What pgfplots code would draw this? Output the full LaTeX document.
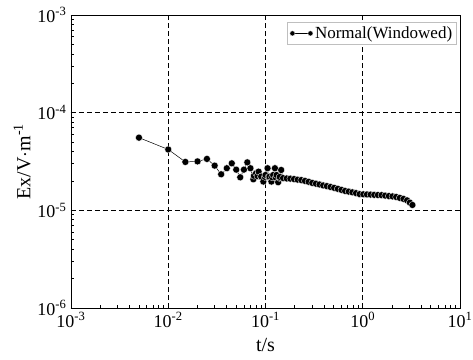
\documentclass[border=0pt]{standalone}
\usepackage{fontspec}
\setmainfont{Liberation Serif}
\usepackage{pgfplots}
\pgfplotsset{compat=1.18}
\begin{document}
\begin{tikzpicture}
\path[use as bounding box] (-71pt,-51pt) rectangle (402pt,308pt);
\begin{loglogaxis}[
  at={(0pt,0pt)}, anchor=south west,
  scale only axis, width=389pt, height=293pt,
  xmin=1e-3, xmax=10, ymin=1e-6, ymax=1e-3,
  xtick={1e-3,1e-2,1e-1,1,10},
  xticklabels={10\textsuperscript{-3},10\textsuperscript{-2},10\textsuperscript{-1},10\textsuperscript{0},10\textsuperscript{1}},
  ytick={1e-6,1e-5,1e-4,1e-3},
  yticklabels={10\textsuperscript{-6},10\textsuperscript{-5},10\textsuperscript{-4},10\textsuperscript{-3}},
  tick label style={font=\fontsize{18}{20}\selectfont},
  xticklabel style={yshift=-1pt},
  yticklabel style={xshift=-1pt},
  xlabel={t/s}, ylabel={Ex/V$\cdot$m\textsuperscript{-1}},
  label style={font=\fontsize{20}{22}\selectfont},
  xlabel style={yshift=-4pt},
  ylabel style={yshift=0pt},
  tick align=inside, xtick pos=bottom, ytick pos=left,
  major tick length=5pt, minor tick length=3pt,
  axis line style={line width=0.9pt},
  every tick/.style={black, line width=0.7pt},
  grid=major,
  major grid style={black, dashed, dash pattern=on 5pt off 3pt, line width=0.8pt},
  legend style={at={(0.992,0.976)}, anchor=north east, draw=gray!50, font=\fontsize{17}{19}\selectfont, inner sep=2.5pt},
  legend cell align=left,
  legend image code/.code={\draw[#1, mark size=2.6pt] plot coordinates {(0pt,0pt) (18pt,0pt)};},
]
\addplot[black, line width=0.5pt, mark=*, mark size=3.5pt, mark options={fill=black, draw=white, line width=0.3pt}] coordinates {
(0.005,5.55e-5) (0.01,4.2e-5) (0.015,3.13e-5) (0.02,3.17e-5) (0.025,3.36e-5)
(0.03,2.87e-5) (0.035,2.34e-5) (0.04,2.70e-5) (0.045,3.03e-5) (0.05,2.61e-5)
(0.055,2.18e-5) (0.06,2.61e-5) (0.065,3.10e-5) (0.07,2.70e-5) (0.075,2.08e-5)
(0.076,2.26e-5) (0.08,2.40e-5) (0.0829,2.24e-5) (0.085,2.49e-5) (0.09,2.20e-5)
(0.0903,2.22e-5) (0.095,1.97e-5) (0.0985,2.20e-5) (0.1,2.30e-5) (0.105,2.70e-5)
(0.1074,2.19e-5) (0.11,2.21e-5) (0.115,1.97e-5) (0.117,2.18e-5) (0.12,2.30e-5)
(0.125,2.70e-5) (0.1276,2.165e-5) (0.13,2.30e-5) (0.135,1.94e-5) (0.1391,2.15e-5)
(0.14,2.20e-5) (0.145,2.59e-5) (0.1517,2.14e-5) (0.1653,2.12e-5) (0.1802,2.11e-5)
(0.1965,2.09e-5) (0.2142,2.06e-5) (0.2335,2.04e-5) (0.2546,2.00e-5) (0.2775,1.96e-5)
(0.3026,1.91e-5) (0.3299,1.875e-5) (0.3596,1.84e-5) (0.3920,1.80e-5) (0.4274,1.77e-5)
(0.4660,1.735e-5) (0.5080,1.70e-5) (0.5538,1.66e-5) (0.6038,1.62e-5) (0.6583,1.58e-5)
(0.7177,1.555e-5) (0.7824,1.53e-5) (0.8530,1.50e-5) (0.9300,1.465e-5) (1.0139,1.46e-5)
(1.1054,1.455e-5) (1.2051,1.45e-5) (1.3138,1.44e-5) (1.4323,1.435e-5) (1.5615,1.43e-5)
(1.7024,1.415e-5) (1.8560,1.40e-5) (2.0234,1.39e-5) (2.2059,1.37e-5) (2.4049,1.34e-5)
(2.6219,1.31e-5) (2.8584,1.265e-5) (3.05,1.20e-5) (3.24,1.135e-5)
};
\addlegendentry{Normal(Windowed)}
\end{loglogaxis}
\end{tikzpicture}
\end{document}
